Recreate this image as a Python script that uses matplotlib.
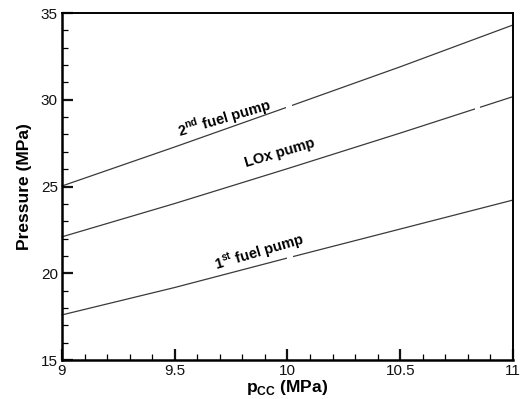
import matplotlib
matplotlib.use("Agg")
import matplotlib.pyplot as plt
from matplotlib.ticker import MultipleLocator
from matplotlib.patches import Rectangle

plt.rcParams['font.family'] = ['Liberation Sans', 'DejaVu Sans']

# Chamber pressure (MPa)
p_cc = [9.0, 9.5, 10.0, 10.5, 11.0]
# Pump discharge pressures (MPa)
fuel_pump_2 = [25.03, 27.28, 29.58, 31.90, 34.31]
lox_pump = [22.10, 24.02, 26.03, 28.08, 30.18]
fuel_pump_1 = [17.60, 19.18, 20.88, 22.55, 24.22]

curve_labels = ["2$^{\\mathregular{nd}}$ fuel pump", "LOx pump", "1$^{\\mathregular{st}}$ fuel pump"]
# small breaks in each contour line (x-range)
line_breaks = [(9.995, 10.02), (10.83, 10.852), (10.0, 10.025)]

fig = plt.figure(figsize=(5.24, 3.99), dpi=100)
ax = fig.add_axes([0.1183, 0.0977, 0.8607, 0.8697])

for series, (g0, g1) in zip((fuel_pump_2, lox_pump, fuel_pump_1), line_breaks):
    for x0, x1 in ((8.9, g0), (g1, 11.1)):
        ln, = ax.plot(p_cc, series, color='#3a3a3a', lw=0.9)
        clip = Rectangle((x0, 0), x1 - x0, 100, transform=ax.transData)
        ln.set_clip_path(clip)

ax.set_xlim(9, 11)
ax.set_ylim(15, 35)
ax.xaxis.set_major_locator(MultipleLocator(0.5))
ax.xaxis.set_minor_locator(MultipleLocator(0.1))
ax.yaxis.set_major_locator(MultipleLocator(5))
ax.yaxis.set_minor_locator(MultipleLocator(1))
ax.set_xticks([9, 9.5, 10, 10.5, 11])
ax.set_xticklabels(['9', '9.5', '10', '10.5', '11'])
ax.tick_params(which='major', direction='in', length=8, width=1.6, labelsize=11, pad=3,
               top=False, right=False, colors='#111111')
ax.tick_params(which='minor', direction='in', length=4.5, width=0.9, top=False, right=False)
for side, sp in ax.spines.items():
    sp.set_linewidth(1.8 if side in ('left', 'bottom') else 1.4)

ax.set_xlabel("p$_{\\mathregular{CC}}$ (MPa)", fontsize=12.5, fontweight='bold', labelpad=0)
ax.set_ylabel("Pressure (MPa)", fontsize=12.5, fontweight='bold', labelpad=6)

label_pos = [(9.718, 28.95), (9.967, 26.93), (9.878, 21.22)]
for text, (x, y) in zip(curve_labels, label_pos):
    ax.text(x, y, text, fontsize=10.5, fontweight='bold', rotation=16.5,
            ha='center', va='center', rotation_mode='anchor')

fig.savefig("out.png", dpi=100)
